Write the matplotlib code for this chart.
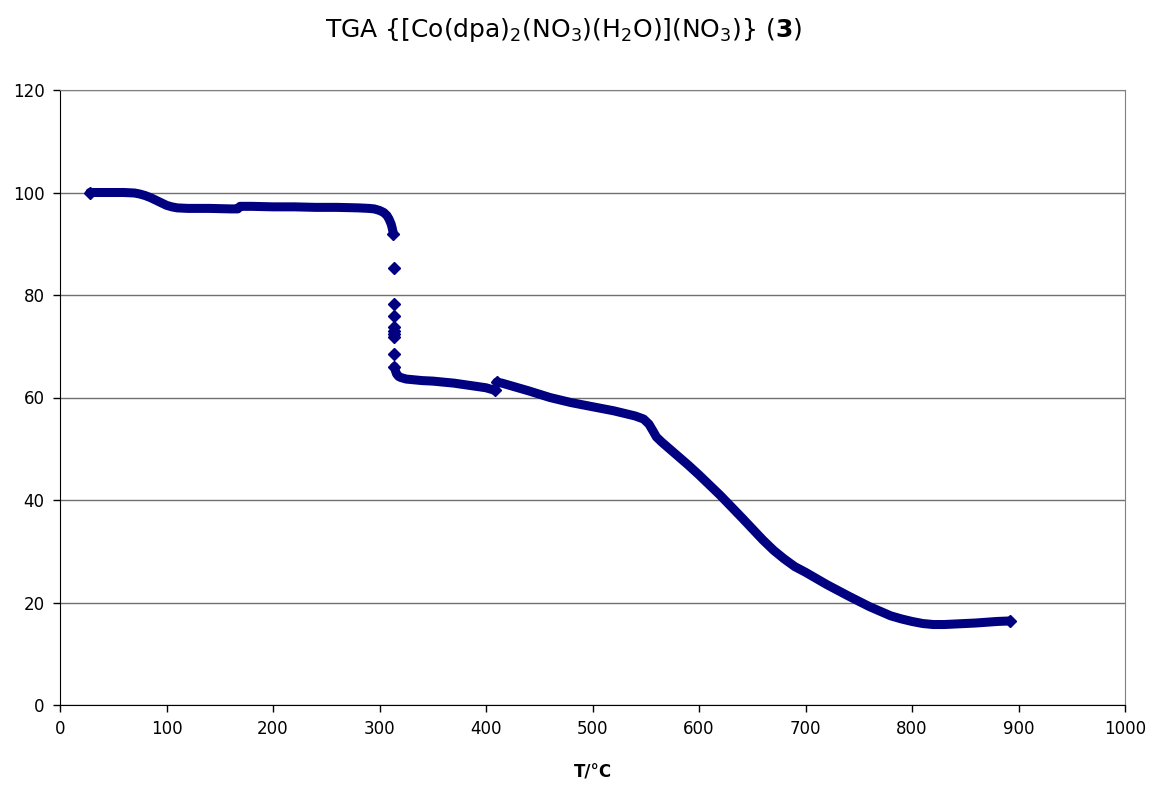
import matplotlib
matplotlib.use("Agg")
import matplotlib.pyplot as plt

# TGA data (T in degC, mass in %)
# first plateau, water loss, second plateau
t_seg1 = [28, 40, 50, 60, 70, 75, 80, 85, 90, 95, 100, 105, 110, 120, 140,
          160, 167, 169, 180, 200, 220, 240, 260, 280, 290, 295, 300, 304,
          307, 309, 311, 312, 313]
m_seg1 = [100, 100, 100, 100, 99.9, 99.7, 99.4, 99.0, 98.5, 98.0, 97.5, 97.2,
          97.0, 96.9, 96.9, 96.8, 96.8, 97.3, 97.3, 97.2, 97.2, 97.1, 97.1,
          97.0, 96.9, 96.8, 96.5, 96.1, 95.5, 94.8, 93.8, 93.0, 92.0]

# isolated points during the fast step near 313 degC
t_drop = [313.5, 313.6, 313.6, 313.7, 313.7, 313.8, 313.8, 313.9]
m_drop = [85.3, 78.3, 75.9, 73.8, 73.0, 72.3, 71.9, 68.4]

t_seg2 = [314, 315, 316, 318, 320, 325, 330, 340, 350, 360, 370, 380, 390,
          400, 405, 408]
m_seg2 = [66.0, 65.2, 64.6, 64.1, 63.9, 63.6, 63.5, 63.3, 63.2, 63.0, 62.8,
          62.5, 62.2, 61.9, 61.6, 61.4]

t_seg3 = [410, 415, 420, 440, 460, 480, 500, 520, 540, 548, 553, 557, 560,
          565, 570, 580, 590, 600, 620, 640, 660, 670, 680, 690, 700, 720,
          740, 760, 780, 790, 800, 810, 820, 830, 840, 860, 880, 892]
m_seg3 = [63.0, 62.8, 62.5, 61.3, 60.0, 59.0, 58.2, 57.4, 56.4, 55.8, 54.8,
          53.4, 52.3, 51.3, 50.4, 48.6, 46.8, 44.9, 40.9, 36.6, 32.2, 30.2,
          28.5, 27.0, 25.9, 23.5, 21.3, 19.2, 17.4, 16.8, 16.3, 15.9, 15.7,
          15.7, 15.8, 16.0, 16.3, 16.4]

x_ticks = [0, 100, 200, 300, 400, 500, 600, 700, 800, 900, 1000]
y_ticks = [0, 20, 40, 60, 80, 100, 120]

navy = "#000080"

fig = plt.figure(figsize=(11.52, 7.85), dpi=100)
ax = fig.add_axes([60 / 1152, 1 - 705 / 785, 1065 / 1152, 615 / 785])

# dense readings look like a thick band, diamonds show at the ends
for t, m in [(t_seg1, m_seg1), (t_seg2, m_seg2), (t_seg3, m_seg3)]:
    ax.plot(t, m, color=navy, lw=6.5, marker="D", ms=6.5,
            markevery=[0, len(t) - 1],
            solid_capstyle="round", solid_joinstyle="round", zorder=3)
ax.plot(t_drop, m_drop, ls="none", color=navy, marker="D", ms=6.5, zorder=3)

ax.set_xlim(0, 1000)
ax.set_ylim(0, 120)
ax.set_xticks(x_ticks)
ax.set_yticks(y_ticks)
ax.tick_params(direction="out", length=5, width=1, labelsize=12, pad=6,
               color="black")
ax.yaxis.grid(True, color="#707070", lw=1)
ax.set_axisbelow(True)

for side in ["top", "right"]:
    ax.spines[side].set_color("#808080")
for side in ["left", "bottom"]:
    ax.spines[side].set_color("black")

fig.text(0.489, 0.962,
         r"TGA {[Co(dpa)$_2$(NO$_3$)(H$_2$O)](NO$_3$)} ($\mathbf{3}$)",
         ha="center", va="center", fontsize=18)
fig.text(0.5144, 0.016, "T/°C", ha="center", va="center", fontsize=12,
         fontweight="bold")

fig.savefig("out.png", dpi=100)
